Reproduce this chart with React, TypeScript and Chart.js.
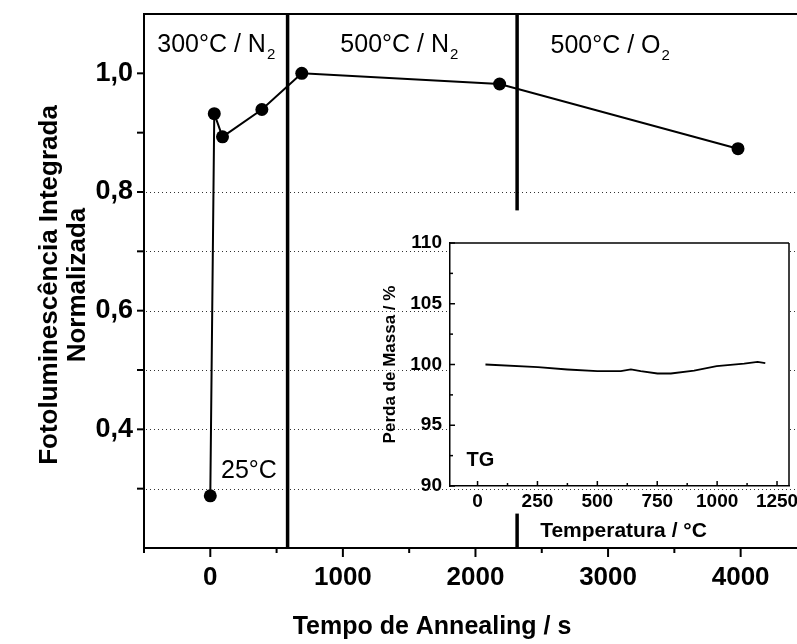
import React, { useEffect, useRef } from "react";
import { Chart, registerables } from "chart.js";
Chart.register(...registerables);

const FONT = "'Liberation Sans', Arial, Helvetica, sans-serif";

// ---- main series ----
const annealTime = [0, 30, 92, 389, 690, 2182, 3980];
const normalizedPL = [0.288, 0.932, 0.893, 0.939, 1.0, 0.982, 0.873];

// ---- phase boundaries (s) ----
const boundaryTime = [583, 2314];
const boundaryGap = [0.769, 0.258];

// ---- annotations ----
const regionText = ["300°C / N", "500°C / N", "500°C / O"];
const regionSub = ["2", "2", "2"];
const regionTime = [-400, 981, 2566];
const regionLevel = [1.048, 1.048, 1.046];
const roomTempText = "25°C";
const roomTempTime = 81;
const roomTempLevel = 0.33;

// ---- axes ----
const xRange = [-500, 4425];
const xTickValues = [-500, 0, 500, 1000, 1500, 2000, 2500, 3000, 3500, 4000];
const xTickLabels = ["", "0", "", "1000", "", "2000", "", "3000", "", "4000"];
const yRange = [0.2, 1.1];
const yGridShown = [0.3, 0.8];
const xTitle = "Tempo de Annealing / s";
const yTitle = ["Fotoluminescência Integrada", "Normalizada"];

// ---- inset (TG) ----
const tgTemperature = [33, 252, 375, 500, 598, 640, 681, 751, 807, 904, 998, 1113, 1169, 1201];
const tgMass = [100.0, 99.78, 99.59, 99.45, 99.45, 99.59, 99.45, 99.26, 99.26, 99.5, 99.86, 100.08, 100.22, 100.11];
const insetXRange = [-115, 1300];
const insetXTickValues = [0, 250, 500, 750, 1000, 1250];
const insetYRange = [90, 110];
const insetXTitle = "Temperatura / °C";
const insetYTitle = "Perda de Massa / %";
const insetTag = "TG";
const insetTagPos = [-46, 92.1];

function line(ctx: CanvasRenderingContext2D, x1: number, y1: number, x2: number, y2: number) {
  ctx.beginPath();
  ctx.moveTo(x1, y1);
  ctx.lineTo(x2, y2);
  ctx.stroke();
}

export default function App() {
  const mainRef = useRef<HTMLCanvasElement>(null);
  const insetRef = useRef<HTMLCanvasElement>(null);

  useEffect(() => {
    document.body.style.margin = "0";
    const mainPts = annealTime.map((t, i) => ({ x: t, y: normalizedPL[i] }));
    const b1 = [{ x: boundaryTime[0], y: yRange[0] }, { x: boundaryTime[0], y: yRange[1] }];
    const b2a = [{ x: boundaryTime[1], y: boundaryGap[0] }, { x: boundaryTime[1], y: yRange[1] }];
    const b2b = [{ x: boundaryTime[1], y: yRange[0] }, { x: boundaryTime[1], y: boundaryGap[1] }];

    const mainDecor = {
      id: "mainDecor",
      beforeDatasetsDraw(chart: any) {
        const { ctx, chartArea: a, scales } = chart;
        const ys = scales.y;
        ctx.save();
        ctx.strokeStyle = "#333";
        ctx.lineWidth = 1;
        ctx.setLineDash([1, 3]);
        ys.ticks.forEach((t: any) => {
          if (t.value < yGridShown[0] - 0.05 || t.value > yGridShown[1] + 0.05) return;
          const py = Math.round(ys.getPixelForValue(t.value)) + 0.5;
          line(ctx, a.left + 2, py, a.right, py);
        });
        ctx.restore();
      },
      afterDraw(chart: any) {
        const { ctx, chartArea: a, scales } = chart;
        const xs = scales.x;
        const ys = scales.y;
        ctx.save();
        ctx.strokeStyle = "#000";
        ctx.lineWidth = 2;
        line(ctx, a.left - 1, a.top, a.right, a.top);
        ctx.fillStyle = "#000";
        ctx.textBaseline = "middle";
        ctx.textAlign = "center";
        ctx.font = `bold 26px ${FONT}`;
        xs.ticks.forEach((t: any, i: number) => {
          const px = xs.getPixelForValue(t.value);
          const label = xTickLabels[i] || "";
          line(ctx, px, a.bottom, px, a.bottom + (label ? 9 : 5));
          if (label) ctx.fillText(label, px, 578);
        });
        ys.ticks.forEach((t: any) => {
          if (t.value < 0.25 || t.value > 1.05) return;
          const py = ys.getPixelForValue(t.value);
          line(ctx, a.left - 7, py, a.left, py);
        });
        ctx.textAlign = "left";
        regionText.forEach((txt, i) => {
          const px = xs.getPixelForValue(regionTime[i]);
          const py = ys.getPixelForValue(regionLevel[i]);
          ctx.font = `25px ${FONT}`;
          ctx.fillText(txt, px, py);
          const w = ctx.measureText(txt).width;
          ctx.font = `15px ${FONT}`;
          ctx.fillText(regionSub[i], px + w + 1, py + 10);
        });
        ctx.font = `25px ${FONT}`;
        ctx.fillText(roomTempText, xs.getPixelForValue(roomTempTime), ys.getPixelForValue(roomTempLevel));
        // axis titles
        ctx.font = `bold 25px ${FONT}`;
        ctx.textAlign = "center";
        ctx.fillText(xTitle, 432, 627);
        const cy = (a.top + a.bottom) / 2 + 4;
        ctx.font = `bold 26px ${FONT}`;
        [50, 78].forEach((x, i) => {
          ctx.save();
          ctx.translate(x, cy);
          ctx.rotate(-Math.PI / 2);
          ctx.fillText(yTitle[i], 0, 0);
          ctx.restore();
        });
        ctx.restore();
      },
    };

    const main = new Chart(mainRef.current!, {
      type: "scatter",
      data: {
        datasets: [
          { data: b1, showLine: true, borderColor: "#000", borderWidth: 3.5, pointRadius: 0 },
          { data: b2a, showLine: true, borderColor: "#000", borderWidth: 3.5, pointRadius: 0 },
          { data: b2b, showLine: true, borderColor: "#000", borderWidth: 3.5, pointRadius: 0 },
          {
            data: mainPts,
            showLine: true,
            borderColor: "#000",
            borderWidth: 2,
            pointRadius: 6.5,
            pointBackgroundColor: "#000",
            pointBorderWidth: 0,
          },
        ],
      },
      options: {
        responsive: false,
        animation: false,
        events: [],
        layout: { autoPadding: false, padding: { top: 14, right: 0, left: 0, bottom: 0 } },
        plugins: { legend: { display: false }, tooltip: { enabled: false } },
        scales: {
          x: {
            type: "linear",
            min: xRange[0],
            max: xRange[1],
            afterBuildTicks: (s: any) => {
              s.ticks = xTickValues.map((v) => ({ value: v }));
            },
            afterFit: (s: any) => {
              s.height = 96;
              s.paddingLeft = 0;
              s.paddingRight = 0;
            },
            grid: { display: false, drawTicks: false },
            border: { display: true, color: "#000", width: 2 },
            ticks: { autoSkip: false, maxRotation: 0, display: false },
          },
          y: {
            type: "linear",
            min: yRange[0],
            max: yRange[1],
            afterFit: (s: any) => {
              s.width = 144;
              s.paddingTop = 0;
              s.paddingBottom = 0;
            },
            grid: { display: false, drawTicks: false },
            border: { display: true, color: "#000", width: 2 },
            ticks: {
              stepSize: 0.1,
              autoSkip: false,
              padding: 11,
              color: "#000",
              font: { family: FONT, size: 27, weight: "bold" },
              callback: (v: any) => {
                const r = Math.round(Number(v) * 10);
                return r % 2 === 0 && r >= 4 && r <= 10 ? (r / 10).toFixed(1).replace(".", ",") : "";
              },
            },
          },
        },
      },
      plugins: [mainDecor],
    } as any);

    const insetPts = tgTemperature.map((t, i) => ({ x: t, y: tgMass[i] }));
    const insetDecor = {
      id: "insetDecor",
      beforeDraw(chart: any) {
        const { ctx, chartArea: a } = chart;
        ctx.save();
        ctx.fillStyle = "#fff";
        ctx.fillRect(a.left, a.top, a.right - a.left, a.bottom - a.top);
        ctx.restore();
      },
      afterDraw(chart: any) {
        const { ctx, chartArea: a, scales } = chart;
        const xs = scales.x;
        const ys = scales.y;
        ctx.save();
        ctx.strokeStyle = "#000";
        ctx.lineWidth = 1.5;
        line(ctx, a.left, a.top, a.right, a.top);
        line(ctx, a.right, a.top, a.right, a.bottom);
        for (let v = Math.ceil(xs.min / 125) * 125; v <= xs.max; v += 125) {
          const px = xs.getPixelForValue(v);
          const len = v % 250 === 0 ? 5 : 3;
          line(ctx, px, a.bottom, px, a.bottom - len);
        }
        for (let v = Math.ceil(ys.min / 2.5) * 2.5; v <= ys.max; v += 2.5) {
          const py = ys.getPixelForValue(v);
          const len = v % 5 === 0 ? 5 : 3;
          line(ctx, a.left, py, a.left + len, py);
        }
        ctx.fillStyle = "#000";
        ctx.textBaseline = "middle";
        ctx.textAlign = "center";
        ctx.font = `bold 19px ${FONT}`;
        xs.ticks.forEach((t: any) => {
          ctx.fillText(String(Math.round(t.value)), xs.getPixelForValue(t.value), a.bottom + 16);
        });
        ctx.font = `bold 20px ${FONT}`;
        ctx.textAlign = "left";
        ctx.fillText(insetTag, xs.getPixelForValue(insetTagPos[0]), ys.getPixelForValue(insetTagPos[1]));
        ctx.textAlign = "center";
        ctx.font = `bold 21px ${FONT}`;
        ctx.fillText(insetXTitle, (a.left + a.right) / 2 + 4, a.bottom + 45);
        ctx.font = `bold 17px ${FONT}`;
        ctx.save();
        ctx.translate(a.left - 60, (a.top + a.bottom) / 2);
        ctx.rotate(-Math.PI / 2);
        ctx.fillText(insetYTitle, 0, 0);
        ctx.restore();
        ctx.restore();
      },
    };

    const inset = new Chart(insetRef.current!, {
      type: "scatter",
      data: {
        datasets: [
          {
            data: insetPts,
            showLine: true,
            borderColor: "#000",
            borderWidth: 1.8,
            pointRadius: 0,
          },
        ],
      },
      options: {
        responsive: false,
        animation: false,
        events: [],
        layout: { autoPadding: false, padding: { top: 43, right: 8, left: 0, bottom: 0 } },
        plugins: { legend: { display: false }, tooltip: { enabled: false } },
        scales: {
          x: {
            type: "linear",
            min: insetXRange[0],
            max: insetXRange[1],
            afterBuildTicks: (s: any) => {
              s.ticks = insetXTickValues.map((v) => ({ value: v }));
            },
            afterFit: (s: any) => {
              s.height = 58;
              s.paddingLeft = 0;
              s.paddingRight = 0;
            },
            grid: { display: false, drawTicks: false },
            border: { display: true, color: "#000", width: 1.5 },
            ticks: { autoSkip: false, maxRotation: 0, display: false },
          },
          y: {
            type: "linear",
            min: insetYRange[0],
            max: insetYRange[1],
            afterFit: (s: any) => {
              s.width = 90;
              s.paddingTop = 0;
              s.paddingBottom = 0;
            },
            grid: { display: false, drawTicks: false },
            border: { display: true, color: "#000", width: 1.5 },
            ticks: {
              stepSize: 5,
              autoSkip: false,
              padding: 8,
              color: "#000",
              font: { family: FONT, size: 19, weight: "bold" },
            },
          },
        },
      },
      plugins: [insetDecor],
    } as any);

    return () => {
      main.destroy();
      inset.destroy();
    };
  }, []);

  return (
    <div style={{ position: "relative", width: 797, height: 644, overflow: "hidden", background: "#fff" }}>
      <canvas ref={mainRef} width={797} height={644} style={{ position: "absolute", left: 0, top: 0 }} />
      <canvas ref={insetRef} width={437} height={344} style={{ position: "absolute", left: 360, top: 200 }} />
    </div>
  );
}
